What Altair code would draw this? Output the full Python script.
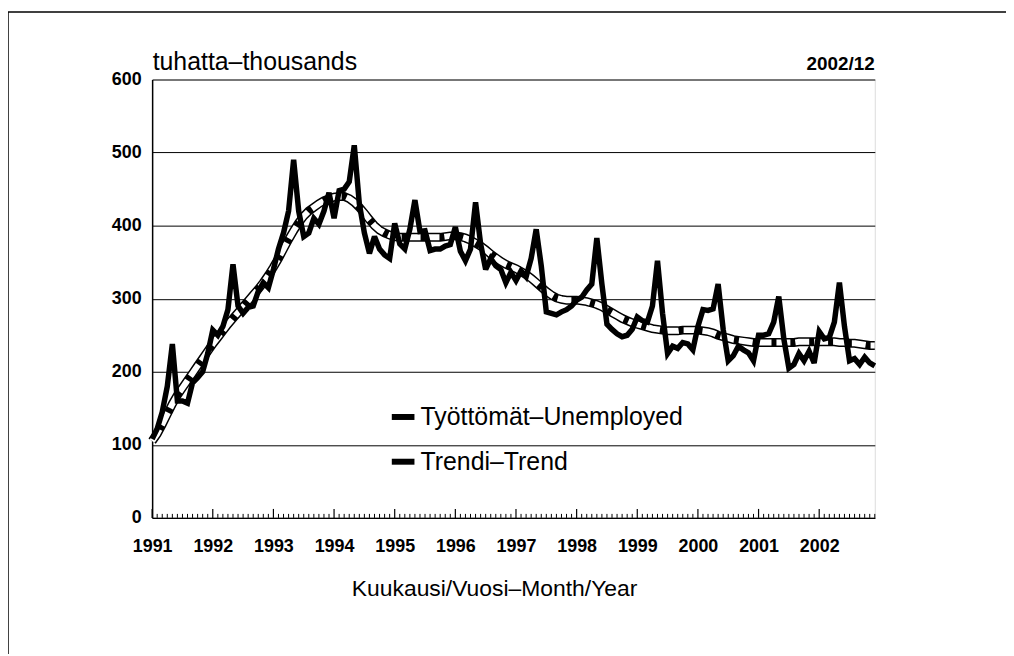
import altair as alt
import pandas as pd

# Monthly values, thousands, 1991/01 - 2002/12
unemployed = [
    108, 122, 145, 180, 238, 160, 160, 157, 185, 192, 200, 225,   # 1991
    257, 250, 262, 285, 347, 290, 280, 288, 290, 310, 322, 315,   # 1992
    340, 368, 390, 420, 490, 420, 385, 390, 410, 402, 420, 445,   # 1993
    410, 448, 450, 460, 510, 430, 390, 362, 385, 368, 360, 355,   # 1994
    403, 375, 368, 395, 435, 392, 393, 366, 368, 368, 372, 374,   # 1995
    398, 365, 352, 368, 432, 375, 340, 355, 345, 340, 322, 336,   # 1996
    325, 338, 330, 355, 395, 345, 282, 280, 278, 282, 285, 290,   # 1997
    298, 302, 312, 320, 383, 320, 265, 258, 252, 248, 250, 258,   # 1998
    275, 270, 268, 290, 352, 280, 225, 235, 232, 240, 238, 230,   # 1999
    262, 285, 284, 286, 320, 258, 215, 222, 235, 230, 226, 215,   # 2000
    250, 250, 252, 268, 303, 245, 205, 210, 225, 215, 228, 212,   # 2001
    255, 245, 247, 268, 322, 262, 215, 218, 210, 220, 212, 208,   # 2002
]
trend = [
    105, 115, 128, 142, 156, 168, 178, 188, 198, 208, 218, 228,   # 1991
    238, 247, 256, 265, 273, 281, 289, 297, 305, 313, 322, 332,   # 1992
    343, 355, 368, 381, 393, 404, 413, 420, 425, 430, 434, 437,   # 1993
    439, 440, 440, 437, 432, 425, 417, 408, 400, 394, 390, 387,   # 1994
    385, 384, 384, 384, 384, 384, 384, 384, 384, 384, 385, 386,   # 1995
    386, 385, 383, 380, 376, 372, 367, 361, 356, 351, 347, 344,   # 1996
    341, 337, 333, 328, 322, 316, 310, 305, 301, 299, 298, 298,   # 1997
    298, 297, 296, 294, 292, 289, 285, 281, 277, 273, 270, 267,   # 1998
    265, 263, 261, 259, 258, 257, 256, 256, 256, 257, 257, 257,   # 1999
    257, 256, 255, 253, 250, 248, 246, 244, 243, 242, 241, 240,   # 2000
    240, 240, 240, 240, 240, 240, 240, 240, 241, 241, 241, 241,   # 2001
    241, 241, 241, 241, 240, 240, 239, 239, 238, 237, 236, 236,   # 2002
]
first_year = 1991
year_labels = [str(y) for y in range(1991, 2003)]
y_ticks = [0, 100, 200, 300, 400, 500, 600]
period_label = "2002/12"

S_UNEMP = "Työttömät–Unemployed"
S_TREND = "Trendi–Trend"

SANS = "Liberation Sans, Arial, sans-serif"
W, H = 727, 441

idx = list(range(len(unemployed)))
df_u = pd.DataFrame({"m": idx, "v": unemployed, "s": S_UNEMP})
df_t = pd.DataFrame({"m": idx, "v": trend, "s": S_TREND})
df_minor = pd.DataFrame({"m": [i for i in idx if i % 12 != 0]})
df_major = pd.DataFrame({"m": [i for i in idx if i % 12 == 0]})
one = pd.DataFrame({"t": [period_label]})

xscale = alt.Scale(domain=[0, len(idx) - 1], nice=False, zero=False)
yscale = alt.Scale(domain=[0, 600], nice=False)
color = alt.Color(
    "s:N",
    scale=alt.Scale(domain=[S_UNEMP, S_TREND], range=["black", "black"]),
    legend=alt.Legend(
        orient="none", legendX=238, legendY=325, title=None,
        symbolType="stroke", symbolStrokeWidth=6, symbolSize=520,
        labelFont=SANS, labelFontSize=25, labelColor="black",
        rowPadding=17, labelLimit=500, labelOffset=3,
    ),
)

x_axis = alt.Axis(
    values=[i * 12 for i in range(len(year_labels))],
    labelExpr="'' + (%d + round(datum.value / 12))" % first_year,
    labelOverlap=False, labelFlush=False, labelBound=False,
    ticks=False, grid=False, domain=True, domainColor="black", domainWidth=1.5,
    labelFont=SANS, labelFontSize=18, labelFontWeight="bold", labelColor="black",
    labelPadding=20,
    title="Kuukausi/Vuosi–Month/Year", titleFont=SANS,
    titleFontSize=23, titleFontWeight="normal", titleColor="black",
    titlePadding=22, titleX=344,
)
y_axis = alt.Axis(
    values=y_ticks, grid=True, gridColor="black", gridWidth=1, gridOpacity=1,
    ticks=False, domain=True, domainColor="black", domainWidth=1.5,
    labelFont=SANS, labelFontSize=18, labelFontWeight="bold", labelColor="black",
    labelPadding=11, labelFlush=False,
    title="tuhatta–thousands", titleAngle=0, titleAlign="left", titleBaseline="alphabetic",
    titleX=0, titleY=-10, titleFont=SANS,
    titleFontSize=25, titleFontWeight="normal", titleColor="black",
)

trend_black = alt.Chart(df_t).mark_line(strokeWidth=9, strokeCap="butt").encode(
    x=alt.X("m:Q", scale=xscale, axis=x_axis),
    y=alt.Y("v:Q", scale=yscale, axis=y_axis),
    color=color,
)
trend_white = alt.Chart(df_t).mark_line(strokeWidth=6, strokeDash=[14, 5], strokeCap="butt").encode(
    x=alt.X("m:Q", scale=xscale),
    y=alt.Y("v:Q", scale=yscale),
    color=alt.value("white"),
)
unemp = alt.Chart(df_u).mark_line(strokeWidth=5.5, strokeJoin="miter", strokeMiterLimit=3).encode(
    x=alt.X("m:Q", scale=xscale),
    y=alt.Y("v:Q", scale=yscale),
    color=color,
)
minor_ticks = alt.Chart(df_minor).mark_rule(color="black", strokeWidth=1).encode(
    x=alt.X("m:Q", scale=xscale),
    y=alt.value(H),
    y2=alt.value(H - 4),
)
major_ticks = alt.Chart(df_major).mark_rule(color="black", strokeWidth=1.2).encode(
    x=alt.X("m:Q", scale=xscale),
    y=alt.value(H),
    y2=alt.value(H - 9),
)
frame_left = alt.Chart(one).mark_rule(color="black", strokeWidth=1.5).encode(
    x=alt.value(-145), y=alt.value(-68), y2=alt.value(600)
)
frame_top = alt.Chart(one).mark_rule(color="black", strokeWidth=1.5).encode(
    x=alt.value(-145), x2=alt.value(870), y=alt.value(-68)
)
period_text = alt.Chart(one).mark_text(
    align="right", baseline="alphabetic", font=SANS, fontSize=19, fontWeight="bold", color="black"
).encode(text="t:N", x=alt.value(W), y=alt.value(-10))

chart = (
    alt.layer(frame_left, frame_top, minor_ticks, major_ticks, trend_black, trend_white, unemp, period_text)
    .properties(
        width=W, height=H,
        autosize=alt.AutoSizeParams(type="none"),
        padding={"left": 145, "top": 70, "right": 132, "bottom": 135},
    )
    .configure_view(stroke="black", strokeWidth=1.5)
    .configure(background="white")
)

chart.save("out.html", embed_options={"renderer": "svg", "actions": False})
